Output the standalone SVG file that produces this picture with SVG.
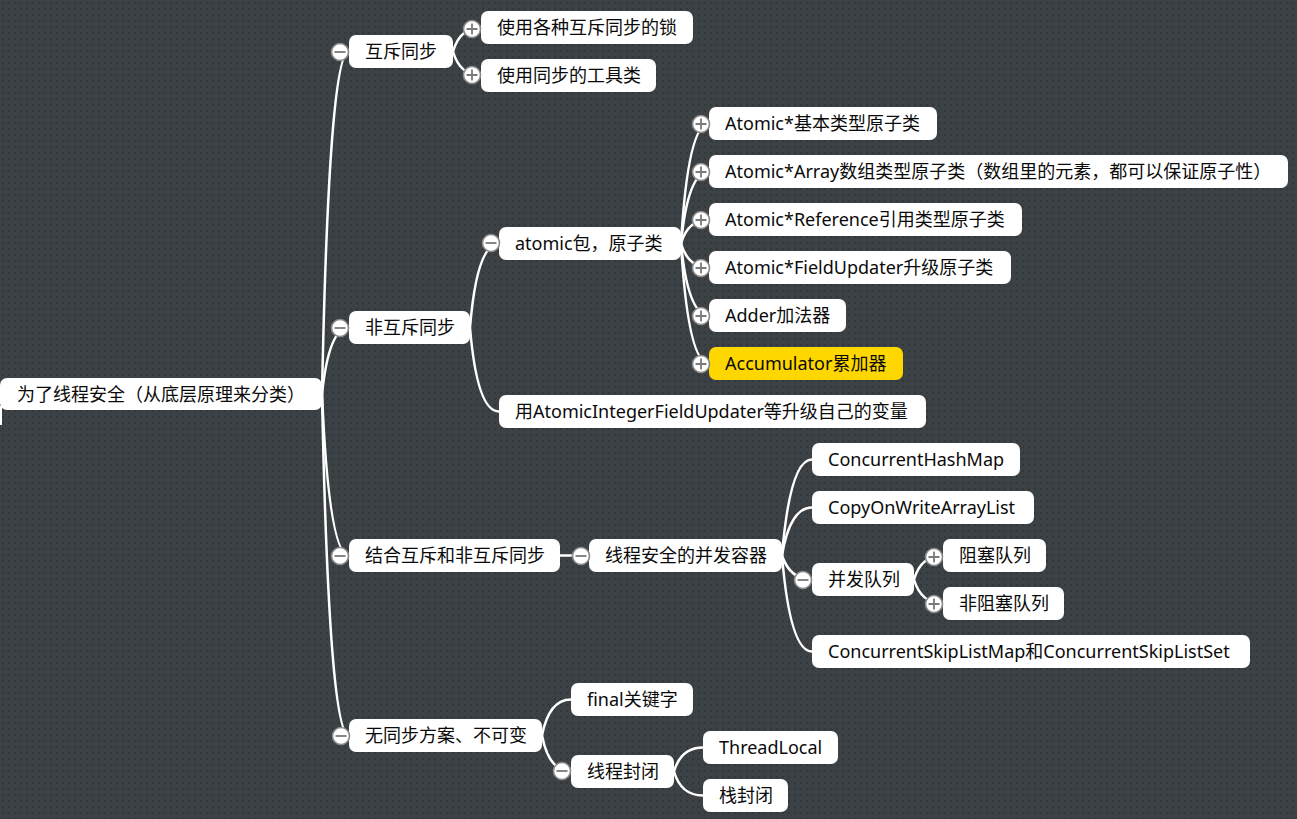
<svg xmlns="http://www.w3.org/2000/svg" width="1297" height="819" viewBox="0 0 1297 819">
<defs>
<pattern id="dots" x="0" y="0" width="6" height="6" patternUnits="userSpaceOnUse">
<rect width="6" height="6" fill="#3c4145"/>
<rect x="2" y="2" width="2" height="2" fill="#32373a"/>
</pattern>
<style>
.n rect{fill:#ffffff;}
.n.hl rect{fill:#ffd700;}
.n text{font-family:"Noto Sans","Noto Sans CJK SC",sans-serif;font-size:18px;fill:#0a0a0a;}
.c path{fill:none;stroke:#ffffff;stroke-width:2.5;stroke-linecap:round;}
</style>
<g id="minus"><circle r="8.5" fill="#ffffff" stroke="#8a8a8a" stroke-width="1.6"/><path d="M-5.5 0H5.5" stroke="#7a7a7a" stroke-width="1.8" fill="none"/></g>
<g id="plus"><circle r="8.5" fill="#ffffff" stroke="#8a8a8a" stroke-width="1.6"/><path d="M-5.5 0H5.5M0 -5.5V5.5" stroke="#7a7a7a" stroke-width="1.8" fill="none"/></g>
</defs>
<rect width="1297" height="819" fill="url(#dots)"/>
<path d="M1 406V425" stroke="#ffffff" stroke-width="2" fill="none"/>

<g id="connectors" class="c">
<path d="M322 394Q329 51.5 349 51.5"/>
<path d="M322 394Q329 327.5 349 327.5"/>
<path d="M322 394Q329 555.5 349 555.5"/>
<path d="M322 394Q329 735.5 349 735.5"/>
<path d="M453 51.5Q460 27.5 481 27.5"/>
<path d="M453 51.5Q460 75.5 481 75.5"/>
<path d="M470 327.5Q477 243.5 499 243.5"/>
<path d="M470 327.5Q477 411.5 499 411.5"/>
<path d="M681 243.5Q688 123.5 709 123.5"/>
<path d="M681 243.5Q688 171.5 709 171.5"/>
<path d="M681 243.5Q688 219.5 709 219.5"/>
<path d="M681 243.5Q688 267.5 709 267.5"/>
<path d="M681 243.5Q688 315.5 709 315.5"/>
<path d="M681 243.5Q688 363.5 709 363.5"/>
<path d="M560 555.5H589"/>
<path d="M782 555.5Q790 459.5 812 459.5"/>
<path d="M782 555.5Q790 507.5 812 507.5"/>
<path d="M782 555.5Q790 579.5 812 579.5"/>
<path d="M782 555.5Q790 651.5 812 651.5"/>
<path d="M914 579.5Q921 555.5 943 555.5"/>
<path d="M914 579.5Q921 603.5 943 603.5"/>
<path d="M542 735.5Q549 699.5 571 699.5"/>
<path d="M542 735.5Q549 771.5 571 771.5"/>
<path d="M674 771.5Q681 747.5 703 747.5"/>
<path d="M674 771.5Q681 795.5 703 795.5"/>
</g>

<g id="root" class="n"><rect x="0" y="378" width="322" height="32" rx="7"/><text x="17" y="401">为了线程安全（从底层原理来分类）</text></g>

<g id="n-huchi" class="n"><rect x="349" y="35" width="104" height="33" rx="7"/><text x="365" y="58">互斥同步</text></g>
<g id="n-lock" class="n"><rect x="481" y="11" width="212" height="33" rx="7"/><text x="497" y="34">使用各种互斥同步的锁</text></g>
<g id="n-tool" class="n"><rect x="481" y="59" width="175" height="33" rx="7"/><text x="497" y="82">使用同步的工具类</text></g>

<g id="n-feihuchi" class="n"><rect x="349" y="311" width="121" height="33" rx="7"/><text x="365" y="334">非互斥同步</text></g>
<g id="n-atomic" class="n"><rect x="499" y="227" width="182" height="33" rx="7"/><text x="515" y="250">atomic包，原子类</text></g>
<g id="n-a1" class="n"><rect x="709" y="107" width="228" height="33" rx="7"/><text x="725" y="130">Atomic*基本类型原子类</text></g>
<g id="n-a2" class="n"><rect x="709" y="155" width="579" height="33" rx="7"/><text x="725" y="178">Atomic*Array数组类型原子类（数组里的元素，都可以保证原子性）</text></g>
<g id="n-a3" class="n"><rect x="709" y="203" width="313" height="33" rx="7"/><text x="725" y="226">Atomic*Reference引用类型原子类</text></g>
<g id="n-a4" class="n"><rect x="709" y="251" width="302" height="33" rx="7"/><text x="725" y="274">Atomic*FieldUpdater升级原子类</text></g>
<g id="n-a5" class="n"><rect x="709" y="299" width="137" height="33" rx="7"/><text x="725" y="322">Adder加法器</text></g>
<g id="n-a6" class="n hl"><rect x="709" y="347" width="194" height="33" rx="7"/><text x="725" y="370">Accumulator累加器</text></g>
<g id="n-upd" class="n"><rect x="499" y="395" width="427" height="33" rx="7"/><text x="515" y="418">用AtomicIntegerFieldUpdater等升级自己的变量</text></g>

<g id="n-jiehe" class="n"><rect x="349" y="539" width="211" height="33" rx="7"/><text x="365" y="562">结合互斥和非互斥同步</text></g>
<g id="n-rongqi" class="n"><rect x="589" y="539" width="193" height="33" rx="7"/><text x="605" y="562">线程安全的并发容器</text></g>
<g id="n-chm" class="n"><rect x="812" y="443" width="208" height="33" rx="7"/><text x="828" y="466">ConcurrentHashMap</text></g>
<g id="n-cow" class="n"><rect x="812" y="491" width="222" height="33" rx="7"/><text x="828" y="514">CopyOnWriteArrayList</text></g>
<g id="n-queue" class="n"><rect x="812" y="563" width="102" height="33" rx="7"/><text x="828" y="586">并发队列</text></g>
<g id="n-block" class="n"><rect x="943" y="539" width="103" height="33" rx="7"/><text x="959" y="562">阻塞队列</text></g>
<g id="n-nonblock" class="n"><rect x="943" y="587" width="121" height="33" rx="7"/><text x="959" y="610">非阻塞队列</text></g>
<g id="n-skip" class="n"><rect x="812" y="635" width="438" height="33" rx="7"/><text x="828" y="658">ConcurrentSkipListMap和ConcurrentSkipListSet</text></g>

<g id="n-wutongbu" class="n"><rect x="349" y="719" width="193" height="33" rx="7"/><text x="365" y="742">无同步方案、不可变</text></g>
<g id="n-final" class="n"><rect x="571" y="683" width="122" height="33" rx="7"/><text x="587" y="706">final关键字</text></g>
<g id="n-fengbi" class="n"><rect x="571" y="755" width="103" height="33" rx="7"/><text x="587" y="778">线程封闭</text></g>
<g id="n-tl" class="n"><rect x="703" y="731" width="135" height="33" rx="7"/><text x="719" y="754">ThreadLocal</text></g>
<g id="n-stack" class="n"><rect x="703" y="779" width="85" height="33" rx="7"/><text x="719" y="802">栈封闭</text></g>

<g id="icons">
<use href="#minus" x="340" y="52"/>
<use href="#minus" x="340" y="328"/>
<use href="#minus" x="340" y="556"/>
<use href="#minus" x="341" y="736"/>
<use href="#plus" x="472" y="29"/>
<use href="#plus" x="472" y="75"/>
<use href="#minus" x="491" y="243"/>
<use href="#plus" x="701" y="124"/>
<use href="#plus" x="701" y="172"/>
<use href="#plus" x="701" y="220"/>
<use href="#plus" x="701" y="268"/>
<use href="#plus" x="701" y="316"/>
<use href="#plus" x="701" y="364"/>
<use href="#minus" x="581" y="556"/>
<use href="#minus" x="803" y="580"/>
<use href="#plus" x="934" y="557"/>
<use href="#plus" x="934" y="604"/>
<use href="#minus" x="562" y="771"/>
</g>
</svg>
